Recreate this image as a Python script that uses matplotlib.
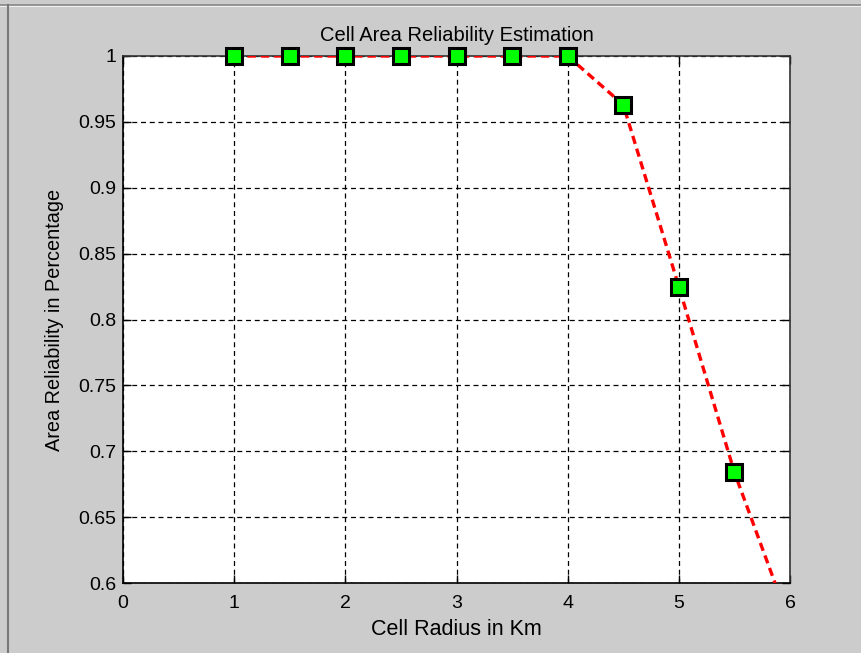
import matplotlib
matplotlib.use("Agg")
import matplotlib.pyplot as plt
from matplotlib.lines import Line2D

radius = [1.0, 1.5, 2.0, 2.5, 3.0, 3.5, 4.0, 4.5, 5.0, 5.5, 6.0]
reliability = [1.0, 1.0, 1.0, 1.0, 1.0, 1.0, 1.0, 0.963, 0.825, 0.684, 0.569]
xticks = [0, 1, 2, 3, 4, 5, 6]
yticks = [0.6, 0.65, 0.7, 0.75, 0.8, 0.85, 0.9, 0.95, 1.0]
yticklabels = ["0.6", "0.65", "0.7", "0.75", "0.8", "0.85", "0.9", "0.95", "1"]

plt.rcParams['font.family'] = ['Liberation Sans', 'DejaVu Sans']

fig = plt.figure(figsize=(8.61, 6.53), dpi=100, facecolor="#cccccc")
ax = fig.add_axes([123/861, 1-583/653, 667/861, 527/653])
ax.set_facecolor("white")

ymin, ymax = 0.6, 1.0
ax.plot(radius, reliability, color="red", linestyle=(0, (2.5, 1.5)), linewidth=2.4,
        zorder=4, clip_on=True)
mx = [x for x, y in zip(radius, reliability) if ymin <= y <= ymax]
my = [y for y in reliability if ymin <= y <= ymax]
ax.plot(mx, my, linestyle="none",
        marker="s", markersize=11, markerfacecolor="#00ff00", markeredgecolor="black",
        markeredgewidth=2.2, zorder=5, clip_on=False)

ax.set_xlim(0, 6)
ax.set_ylim(ymin, ymax)
ax.set_xticks(xticks)
ax.set_xticklabels([str(v) for v in xticks])
ax.set_yticks(yticks)
ax.set_yticklabels(yticklabels)
ax.grid(True, color="black", linestyle=(0, (4, 3)), linewidth=0.9)
ax.tick_params(direction="in", length=6, width=1, top=True, right=True,
               labelsize=14, colors="black", pad=5)
ax.tick_params(axis="x", pad=9)
for s in ax.spines.values():
    s.set_linewidth(1.2)
    s.set_color("black")
ax.spines["top"].set_color("#333333")
ax.spines["right"].set_color("#333333")

ax.set_title("Cell Area Reliability Estimation", fontsize=14.5, pad=11)
ax.set_xlabel("Cell Radius in Km", fontsize=15.5, labelpad=5)
ax.set_ylabel("Area Reliability in Percentage", fontsize=14.3, labelpad=10)

# window frame lines
fig.add_artist(Line2D([0, 1], [1-4.5/653, 1-4.5/653], color="#888888", linewidth=1.2, transform=fig.transFigure))
fig.add_artist(Line2D([0, 1], [1-6/653, 1-6/653], color="#f0f0f0", linewidth=0.8, transform=fig.transFigure))
fig.add_artist(Line2D([8/861, 8/861], [0, 1-4.5/653], color="#777777", linewidth=1.5, transform=fig.transFigure))

fig.savefig("out.png", dpi=100, facecolor=fig.get_facecolor())
